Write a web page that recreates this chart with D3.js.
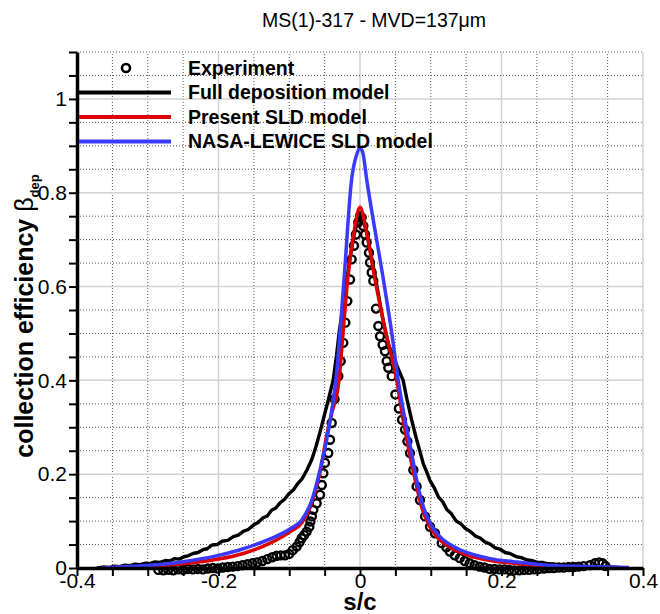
<!DOCTYPE html>
<html>
<head>
<meta charset="utf-8">
<script src="https://cdn.jsdelivr.net/npm/d3@7"></script>
<style>
  html, body { margin: 0; padding: 0; background: #fff; }
  svg { display: block; font-family: "Liberation Sans", Arial, Helvetica, sans-serif; }
</style>
</head>
<body>
<svg id="chart" width="660" height="614"></svg>
<script>
// ---- text ----
const titleText = "MS(1)-317 - MVD=137\u03BCm";
const legendLabels = ["Experiment", "Full deposition model", "Present SLD model", "NASA-LEWICE SLD model"];
const xLabel = "s/c";

// ---- axis ranges and ticks ----
const xDomain = [-0.4, 0.4];
const yDomain = [0, 1.1];
const xTickValues = d3.range(-8, 9).map(i => i * 5 / 100);   // every 0.05
const yTickValues = d3.range(0, 23).map(i => i * 5 / 100);   // every 0.05
const isMajor = d => Math.round(d * 100) % 20 === 0;          // labelled every 0.2

// ---- measured collection efficiency (s/c, beta) ----
const experiment = [
  [-0.285,-0.004],[-0.278,-0.005],[-0.271,-0.004],[-0.264,-0.005],[-0.257,-0.003],[-0.250,-0.004],
  [-0.243,-0.002],[-0.236,-0.003],[-0.229,-0.002],[-0.222,-0.003],[-0.215,-0.001],[-0.208,0.000],
  [-0.201,-0.001],[-0.194,0.001],[-0.187,0.002],[-0.180,0.003],[-0.173,0.004],[-0.166,0.006],
  [-0.159,0.008],[-0.152,0.010],[-0.145,0.012],[-0.138,0.015],[-0.131,0.019],[-0.124,0.023],
  [-0.118,0.026],[-0.112,0.027],[-0.106,0.027],[-0.100,0.030],[-0.095,0.038],[-0.0895,0.0456],
  [-0.0855,0.055],[-0.0825,0.0634],[-0.079,0.070],[-0.0754,0.0776],[-0.0716,0.088],[-0.070,0.099],
  [-0.068,0.110],[-0.066,0.124],[-0.0612,0.138],[-0.0565,0.156],[-0.054,0.177],[-0.0518,0.202],
  [-0.0495,0.224],[-0.0448,0.245],[-0.0424,0.2735],[-0.040,0.309],[-0.036,0.360],[-0.0306,0.409],
  [-0.0273,0.441],[-0.0236,0.480],[-0.0207,0.523],[-0.0179,0.569],[-0.0141,0.615],[-0.0118,0.658],
  [-0.0085,0.687],[-0.0057,0.711],[-0.0024,0.737],[0.000,0.750],[0.0024,0.747],[0.0047,0.729],
  [0.0071,0.711],[0.0094,0.694],[0.0127,0.672],[0.0141,0.651],[0.0165,0.630],[0.0188,0.612],
  [0.0226,0.553],[0.0259,0.516],[0.0283,0.494],[0.032,0.476],[0.0353,0.462],[0.0377,0.441],
  [0.040,0.427],[0.0448,0.409],[0.050,0.370],[0.055,0.340],[0.0594,0.316],[0.0636,0.295],
  [0.067,0.270],[0.0707,0.245],[0.0754,0.209],[0.080,0.174],[0.0848,0.145],[0.092,0.110],
  [0.099,0.088],[0.106,0.074],[0.1155,0.053],[0.122,0.044],[0.127,0.035],[0.134,0.027],
  [0.141,0.021],[0.148,0.015],[0.155,0.010],[0.162,0.006],[0.169,0.003],[0.176,0.001],
  [0.183,-0.002],[0.190,-0.002],[0.197,-0.003],[0.204,-0.003],[0.211,-0.004],[0.218,-0.005],
  [0.225,-0.005],[0.232,-0.004],[0.239,-0.004],[0.246,-0.003],[0.253,-0.002],[0.260,-0.001],
  [0.267,0.000],[0.274,0.000],[0.281,0.001],[0.288,0.001],[0.295,0.002],[0.302,0.002],
  [0.309,0.003],[0.316,0.004],[0.325,0.006],[0.332,0.010],[0.338,0.012],[0.343,0.010],[0.347,0.004]
];

// ---- full deposition model (particle tracking, slightly noisy) ----
const fullDeposition = [
  [-0.372,0.000],[-0.363,0.002],[-0.355,0.001],[-0.347,0.004],[-0.340,0.003],[-0.332,0.006],
  [-0.325,0.005],[-0.318,0.008],[-0.311,0.007],[-0.304,0.010],[-0.298,0.009],[-0.290,0.013],
  [-0.283,0.012],[-0.275,0.016],[-0.269,0.015],[-0.262,0.020],[-0.255,0.019],[-0.249,0.024],
  [-0.243,0.026],[-0.236,0.031],[-0.229,0.033],[-0.222,0.039],[-0.216,0.041],[-0.209,0.049],
  [-0.202,0.050],[-0.195,0.057],[-0.187,0.059],[-0.179,0.067],[-0.172,0.070],[-0.165,0.078],
  [-0.158,0.082],[-0.150,0.092],[-0.144,0.097],[-0.137,0.107],[-0.131,0.111],[-0.125,0.123],
  [-0.119,0.128],[-0.113,0.139],[-0.107,0.146],[-0.100,0.159],[-0.094,0.167],[-0.088,0.180],
  [-0.082,0.190],[-0.075,0.209],[-0.068,0.232],[-0.062,0.260],[-0.057,0.287],[-0.052,0.316],
  [-0.045,0.357],[-0.038,0.400],[-0.033,0.455],[-0.029,0.508],[-0.024,0.555],[-0.020,0.600],
  [-0.016,0.642],[-0.012,0.680],[-0.008,0.712],[-0.004,0.738],[0.000,0.752],[0.004,0.745],
  [0.009,0.718],[0.015,0.672],[0.021,0.625],[0.027,0.575],[0.033,0.525],[0.040,0.478],
  [0.046,0.455],[0.053,0.428],[0.061,0.400],[0.067,0.355],[0.073,0.316],[0.080,0.274],
  [0.085,0.247],[0.0895,0.222],[0.094,0.206],[0.099,0.186],[0.105,0.171],[0.111,0.151],
  [0.117,0.141],[0.123,0.124],[0.129,0.116],[0.136,0.100],[0.142,0.095],[0.149,0.084],
  [0.156,0.078],[0.163,0.068],[0.170,0.064],[0.177,0.055],[0.184,0.051],[0.191,0.043],
  [0.198,0.040],[0.205,0.033],[0.212,0.031],[0.221,0.024],[0.228,0.022],[0.236,0.017],
  [0.243,0.016],[0.250,0.0125],[0.258,0.012],[0.266,0.009],[0.274,0.0085],[0.283,0.006],
  [0.292,0.006],[0.300,0.004],[0.310,0.005],[0.320,0.003],[0.333,0.003],[0.345,0.001],
  [0.358,0.002],[0.372,0.000]
];

// ---- present SLD model ----
const presentSLD = [
  [-0.360,0.000],[-0.300,0.004],[-0.250,0.009],[-0.200,0.019],[-0.165,0.031],[-0.127,0.053],
  [-0.099,0.077],[-0.082,0.097],[-0.068,0.140],[-0.057,0.200],[-0.046,0.290],[-0.040,0.330],
  [-0.0297,0.400],[-0.0236,0.508],[-0.0174,0.615],[-0.008,0.720],[0.000,0.769],[0.0085,0.722],
  [0.0212,0.615],[0.036,0.505],[0.052,0.400],[0.061,0.316],[0.070,0.245],[0.078,0.188],
  [0.087,0.131],[0.097,0.093],[0.110,0.064],[0.128,0.043],[0.155,0.026],[0.184,0.016],
  [0.217,0.010],[0.264,0.004],[0.320,0.002],[0.360,0.000]
];

// ---- NASA-LEWICE SLD model ----
const lewiceSLD = [
  [-0.365,0.000],[-0.330,0.003],[-0.297,0.006],[-0.250,0.0135],[-0.200,0.027],[-0.165,0.041],
  [-0.127,0.062],[-0.099,0.083],[-0.082,0.103],[-0.068,0.145],[-0.0565,0.209],[-0.042,0.316],
  [-0.034,0.402],[-0.0226,0.615],[-0.0118,0.829],[-0.005,0.880],[0.000,0.895],[0.004,0.885],
  [0.0094,0.829],[0.033,0.615],[0.045,0.500],[0.054,0.400],[0.0636,0.316],[0.073,0.245],
  [0.080,0.188],[0.0895,0.131],[0.099,0.096],[0.113,0.067],[0.132,0.046],[0.155,0.031],
  [0.184,0.020],[0.217,0.0135],[0.264,0.006],[0.320,0.003],[0.380,0.001]
];

// ---- layout ----
const svg = d3.select("#chart");
const x = d3.scaleLinear().domain(xDomain).range([77, 643]);
const y = d3.scaleLinear().domain(yDomain).range([568, 52]);

const FONT = '"Liberation Sans", Arial, Helvetica, sans-serif';

// title
svg.append("text")
  .attr("x", 374).attr("y", 27)
  .attr("text-anchor", "middle")
  .attr("font-size", 19.5)
  .attr("fill", "#000")
  .text(titleText);

// grid: light solid lines at labelled values, dotted lines at the other ticks
const grid = svg.append("g");
grid.selectAll("line.gx")
  .data(xTickValues.filter(d => d > xDomain[0] + 1e-9))
  .join("line")
  .attr("x1", d => x(d)).attr("x2", d => x(d))
  .attr("y1", y(yDomain[0])).attr("y2", y(yDomain[1]))
  .attr("stroke", d => isMajor(d) ? "#d2d2d2" : "#555")
  .attr("stroke-width", d => isMajor(d) ? 1.5 : 1)
  .attr("stroke-dasharray", d => isMajor(d) ? null : "1,2");
grid.selectAll("line.gy")
  .data(yTickValues.filter(d => d > 1e-9))
  .join("line")
  .attr("y1", d => y(d)).attr("y2", d => y(d))
  .attr("x1", x(xDomain[0])).attr("x2", x(xDomain[1]))
  .attr("stroke", d => isMajor(d) ? "#d2d2d2" : "#555")
  .attr("stroke-width", d => isMajor(d) ? 1.5 : 1)
  .attr("stroke-dasharray", d => isMajor(d) ? null : "1,2");

// data
const plot = svg.append("g");
plot.selectAll("circle.exp")
  .data(experiment)
  .join("circle")
  .attr("cx", d => x(d[0])).attr("cy", d => y(d[1]))
  .attr("r", 4)
  .attr("fill", "none")
  .attr("stroke", "#000")
  .attr("stroke-width", 2.4);

const lineSmooth = d3.line().x(d => x(d[0])).y(d => y(d[1])).curve(d3.curveMonotoneX);
const lineRaw = d3.line().x(d => x(d[0])).y(d => y(d[1]));

plot.append("path").datum(fullDeposition)
  .attr("d", lineRaw).attr("fill", "none")
  .attr("stroke", "#000").attr("stroke-width", 3.4).attr("stroke-linejoin", "round");
plot.append("path").datum(presentSLD)
  .attr("d", lineSmooth).attr("fill", "none")
  .attr("stroke", "#dd0000").attr("stroke-width", 3.5).attr("stroke-linejoin", "round");
plot.append("path").datum(lewiceSLD)
  .attr("d", lineSmooth).attr("fill", "none")
  .attr("stroke", "#3a3aff").attr("stroke-width", 3.5).attr("stroke-linejoin", "round");

// axes
const fmt = d => isMajor(d) ? String(+d.toFixed(2)) : "";
const xAxis = d3.axisBottom(x).tickValues(xTickValues).tickSize(8).tickSizeOuter(0).tickFormat(fmt);
const yAxis = d3.axisLeft(y).tickValues(yTickValues).tickSize(8).tickSizeOuter(0).tickFormat(fmt).tickPadding(2);

const gx = svg.append("g").attr("transform", `translate(0,${y(0)})`).call(xAxis);
const gy = svg.append("g").attr("transform", `translate(${x(-0.4)},0)`).call(yAxis);

[gx, gy].forEach(g => {
  g.attr("font-family", FONT).attr("font-size", 21);
  g.select(".domain").attr("stroke", "#000").attr("stroke-width", 3.5);
  g.selectAll(".tick line").attr("stroke", "#000").attr("stroke-width", 2);
  g.selectAll(".tick text").attr("fill", "#000");
});
gx.selectAll(".tick text").attr("y", 5);

// axis titles
svg.append("text")
  .attr("x", 360).attr("y", 610)
  .attr("text-anchor", "middle")
  .attr("font-weight", "bold")
  .attr("font-size", 24)
  .text(xLabel);

const yl = svg.append("text")
  .attr("transform", "translate(33,316) rotate(-90)")
  .attr("text-anchor", "middle")
  .attr("font-weight", "bold")
  .attr("font-size", 25);
yl.append("tspan").text("collection efficiency ");
yl.append("tspan").attr("font-weight", "normal").text("\u03B2");
yl.append("tspan").attr("font-size", 13).attr("dy", 6).text("dep");

// legend
const legend = svg.append("g");
const rowY = i => 68 + i * 24.5;
legend.append("circle")
  .attr("cx", 126).attr("cy", rowY(0)).attr("r", 4)
  .attr("fill", "none").attr("stroke", "#000").attr("stroke-width", 2.6);
const legendColors = [null, "#000", "#dd0000", "#3a3aff"];
legend.selectAll("line.leg")
  .data([1, 2, 3])
  .join("line")
  .attr("x1", 79).attr("x2", 171)
  .attr("y1", i => rowY(i)).attr("y2", i => rowY(i))
  .attr("stroke", i => legendColors[i]).attr("stroke-width", 4);
legend.selectAll("text")
  .data(legendLabels)
  .join("text")
  .attr("x", 188).attr("y", (d, i) => rowY(i))
  .attr("dy", "0.35em")
  .attr("font-weight", "bold")
  .attr("font-size", 19.5)
  .text(d => d);
</script>
</body>
</html>
